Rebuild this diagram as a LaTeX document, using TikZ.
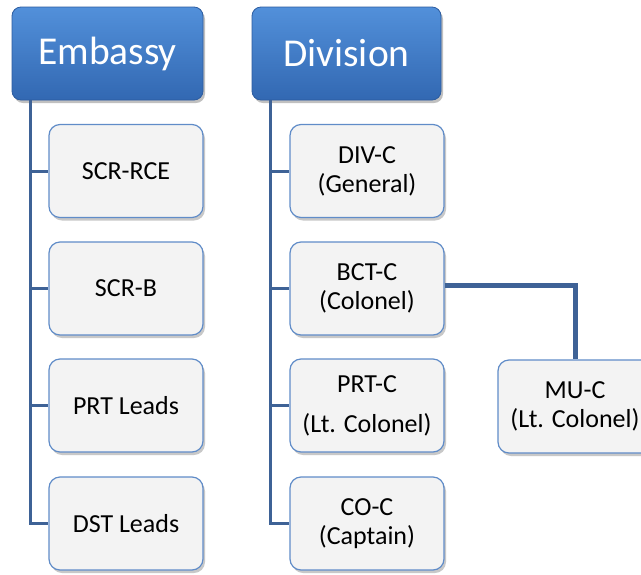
\documentclass[tikz,border=0pt]{standalone}
\usepackage{fontspec}
\setmainfont{Carlito}
\usetikzlibrary{shadows}
\definecolor{headtop}{RGB}{82,144,218}
\definecolor{headbot}{RGB}{50,104,178}
\definecolor{headedge}{RGB}{44,92,160}
\definecolor{boxfill}{RGB}{243,243,243}
\definecolor{boxedge}{RGB}{96,140,200}
\definecolor{linkcol}{RGB}{62,98,150}
\tikzset{
  header/.style={draw=headedge, line width=0.8pt, rounded corners=9pt,
    top color=headtop, bottom color=headbot, text=white,
    minimum height=93pt, inner sep=0pt,
    font=\fontsize{39.5}{42}\selectfont,
    drop shadow={shadow xshift=2pt, shadow yshift=-3pt, opacity=0.35, fill=black!70}},
  member/.style={draw=boxedge, line width=1.2pt, rounded corners=11pt,
    fill=boxfill, minimum width=154pt, minimum height=93pt, inner sep=0pt,
    align=center, font=\fontsize{26}{29}\selectfont,
    drop shadow={shadow xshift=2pt, shadow yshift=-3pt, opacity=0.3, fill=black!70}},
  link/.style={draw=linkcol, line width=3pt},
  widelink/.style={draw=linkcol, line width=5pt}
}
\begin{document}
\begin{tikzpicture}[x=1pt,y=-1pt]
\useasboundingbox (0,0) rectangle (641,574);
\clip (0,0) rectangle (641,574);
\fill[white] (0,0) rectangle (641,574);

% left column: embassy and its staff sections
\node[header, minimum width=191pt] (emb) at (107.5,53.5) {Embassy};
\node[member] (rce) at (126,171) {SCR-RCE};
\node[member] (scrb) at (126,288.5) {SCR-B};
\node[member] (prtl) at (126,405.5) {PRT Leads};
\node[member] (dstl) at (126,523.5) {DST Leads};

% right column: division chain of command
\node[header, minimum width=189pt] (div) at (346.5,53.5) {Division};
\node[member] (divc) at (367,171) {DIV-C\\(General)};
\node[member] (bct) at (367,288.5) {BCT-C\\(Colonel)};
\node[member] (prtc) at (367,405.5) {PRT-C\\[11pt](Lt. Colonel)};
\node[member] (coc) at (367,523.5) {CO-C\\(Captain)};
\node[member] (muc) at (575,406.5) {MU-C\\(Lt. Colonel)};

% spine lines hanging below the headers
\coordinate (embspine) at ([xshift=19pt]emb.south west);
\coordinate (divspine) at ([xshift=19pt]div.south west);

\draw[link] (embspine) |- (dstl.west);
\draw[link] (embspine |- rce.west) -- (rce.west);
\draw[link] (embspine |- scrb.west) -- (scrb.west);
\draw[link] (embspine |- prtl.west) -- (prtl.west);

\draw[link] (divspine) |- (coc.west);
\draw[link] (divspine |- divc.west) -- (divc.west);
\draw[link] (divspine |- bct.west) -- (bct.west);
\draw[link] (divspine |- prtc.west) -- (prtc.west);

\draw[widelink] ([yshift=3pt]bct.east) -| (muc.north);
\end{tikzpicture}
\end{document}
